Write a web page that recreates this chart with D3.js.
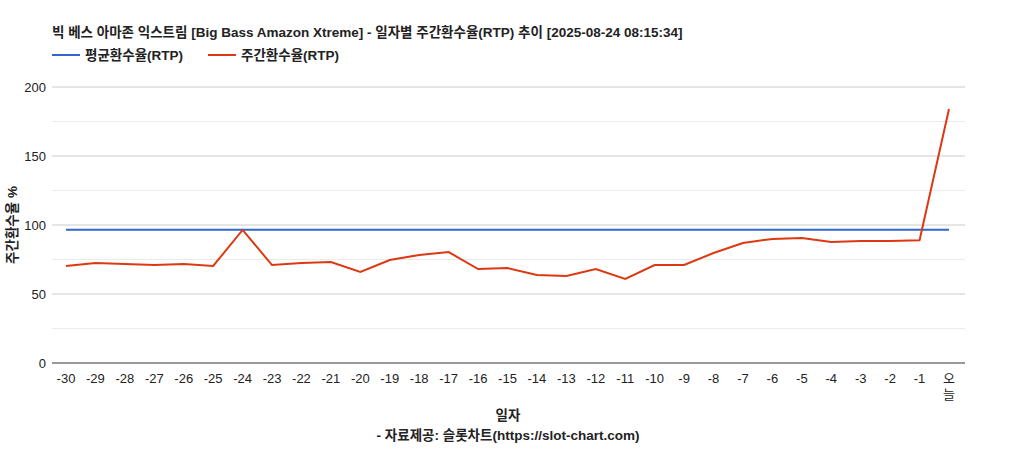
<!DOCTYPE html>
<html><head><meta charset="utf-8">
<script src="https://cdn.jsdelivr.net/npm/d3@7"></script>
<style>body{margin:0;background:#fff;font-family:Arial,"Liberation Sans","Noto Sans CJK KR",sans-serif}</style>
</head><body><div id="chart"></div>
<script>
const labels = ["-30","-29","-28","-27","-26","-25","-24","-23","-22","-21","-20","-19","-18","-17","-16","-15","-14","-13","-12","-11","-10","-9","-8","-7","-6","-5","-4","-3","-2","-1","오늘"];
const weekly = [70.3,72.5,71.7,71,71.7,70.3,96.4,71,72.5,73.2,66,74.6,78.3,80.4,68.1,68.8,63.8,63,68.1,60.9,71,71,79.7,87,89.9,90.6,87.7,88.4,88.4,89,184];
const average = labels.map(() => 96.6);
const yTicks = [0,50,100,150,200];
const minorTicks = [25,75,125,175];

const W = 1015, H = 450;
const m = {left: 52, right: 50, top: 87, bottom: 87};
const svg = d3.select("#chart").append("svg").attr("width", W).attr("height", H);

const x = d3.scalePoint().domain(labels).range([66, 949]);
const y = d3.scaleLinear().domain([0, 200]).range([363, 87]);

// gridlines
svg.selectAll(".minor").data(minorTicks).enter().append("line")
  .attr("x1", m.left).attr("x2", 965).attr("y1", d => y(d)).attr("y2", d => y(d))
  .attr("stroke", "#ebebeb");
svg.selectAll(".major").data(yTicks).enter().append("line")
  .attr("x1", m.left).attr("x2", 965).attr("y1", d => y(d)).attr("y2", d => y(d))
  .attr("stroke", d => d === 0 ? "#333" : "#ccc");

svg.selectAll(".yl").data(yTicks).enter().append("text")
  .attr("x", 46).attr("y", d => y(d) + 5).attr("text-anchor", "end")
  .style("font-size", "13px").attr("fill", "#222").text(d => d);

// x labels
svg.selectAll(".xl").data(labels).enter().append("text")
  .attr("x", d => x(d)).attr("y", 383).attr("text-anchor", "middle")
  .style("font-size", "13px").attr("fill", "#222")
  .each(function(d) {
    const t = d3.select(this);
    if (d === "오늘") {
      t.append("tspan").attr("x", x(d)).attr("dy", 0).text("오");
      t.append("tspan").attr("x", x(d)).attr("dy", "1.2em").text("늘");
    } else t.text(d);
  });

const line = d3.line().x((d, i) => x(labels[i])).y(d => y(d));
svg.append("path").datum(average).attr("d", line).attr("fill", "none")
  .attr("stroke", "#3366cc").attr("stroke-width", 2);
svg.append("path").datum(weekly).attr("d", line).attr("fill", "none")
  .attr("stroke", "#dc3912").attr("stroke-width", 2);

// title + legend
svg.append("text").attr("x", 52).attr("y", 37).style("font-size", "13.5px").style("font-weight", "bold")
  .attr("fill", "#222").text("빅 베스 아마존 익스트림 [Big Bass Amazon Xtreme] - 일자별 주간환수율(RTP) 추이 [2025-08-24 08:15:34]");
const legend = [["평균환수율(RTP)", "#3366cc", 52], ["주간환수율(RTP)", "#dc3912", 208]];
legend.forEach(([name, c, lx]) => {
  svg.append("line").attr("x1", lx).attr("x2", lx + 28).attr("y1", 55).attr("y2", 55).attr("stroke", c).attr("stroke-width", 2);
  svg.append("text").attr("x", lx + 33).attr("y", 60).style("font-size", "13.5px").style("font-weight", "bold")
    .attr("fill", "#222").text(name);
});

svg.append("text").attr("x", 508).attr("y", 420).attr("text-anchor", "middle")
  .style("font-size", "13.5px").style("font-weight", "bold").attr("fill", "#222").text("일자");
svg.append("text").attr("x", 508).attr("y", 440).attr("text-anchor", "middle")
  .style("font-size", "13.5px").style("font-weight", "bold").attr("fill", "#222").text("- 자료제공: 슬롯차트(https://slot-chart.com)");
svg.append("text").attr("transform", "translate(17,225) rotate(-90)").attr("text-anchor", "middle")
  .style("font-size", "13.5px").style("font-weight", "bold").attr("fill", "#222").text("주간환수율 %");
</script></body></html>
